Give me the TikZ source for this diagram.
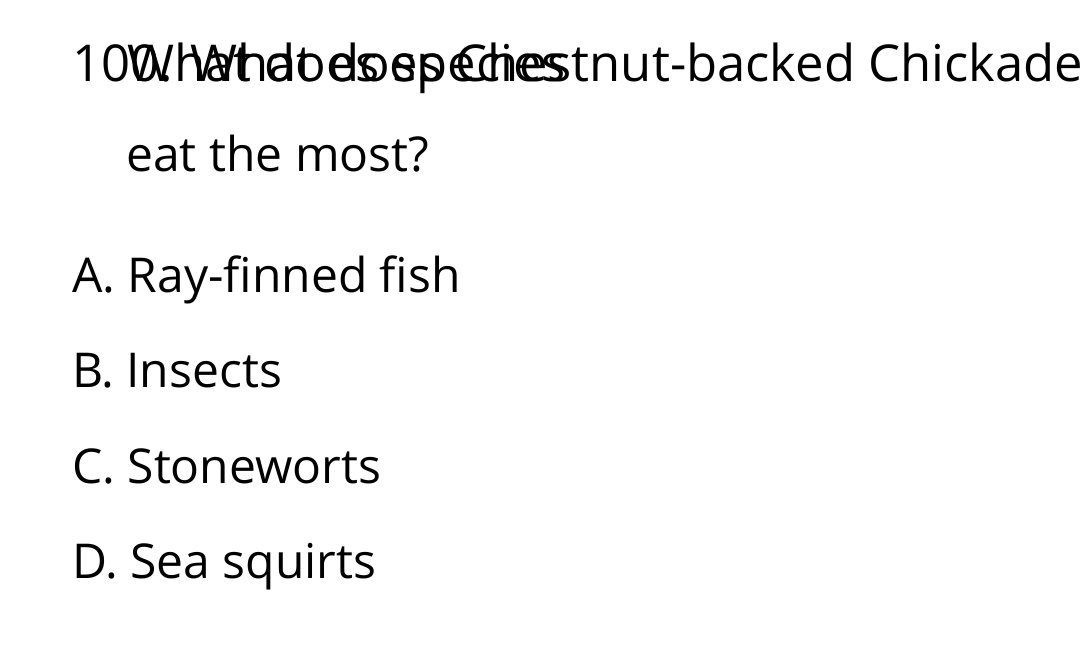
\documentclass[tikz,border=0pt]{standalone}
\usepackage{fontspec}
\setmainfont{Open Sans}

\begin{document}
\begin{tikzpicture}[x=1pt,y=-1pt,
    qtext/.style={anchor=base west, inner sep=0pt, font=\fontsize{48}{58}\selectfont},
    qhead/.style={qtext, font=\fontsize{50.8}{61}\selectfont}]

\useasboundingbox (0,0) rectangle (1080,663);

\node[qhead] (qnum) at (72,82) {100. What does Chestnut-backed Chickadee};
\node[qhead] (qfirst) at (127,82) {What does species};
\node[qtext] (qtail) at (126,172) {eat the most?};

\node[qtext] (optA) at (72,293) {A. Ray-finned fish};
\node[qtext] (optB) at (72,388) {B. Insects};
\node[qtext] (optC) at (72,483) {C. Stoneworts};
\node[qtext] (optD) at (72,578) {D. Sea squirts};

\end{tikzpicture}
\end{document}
